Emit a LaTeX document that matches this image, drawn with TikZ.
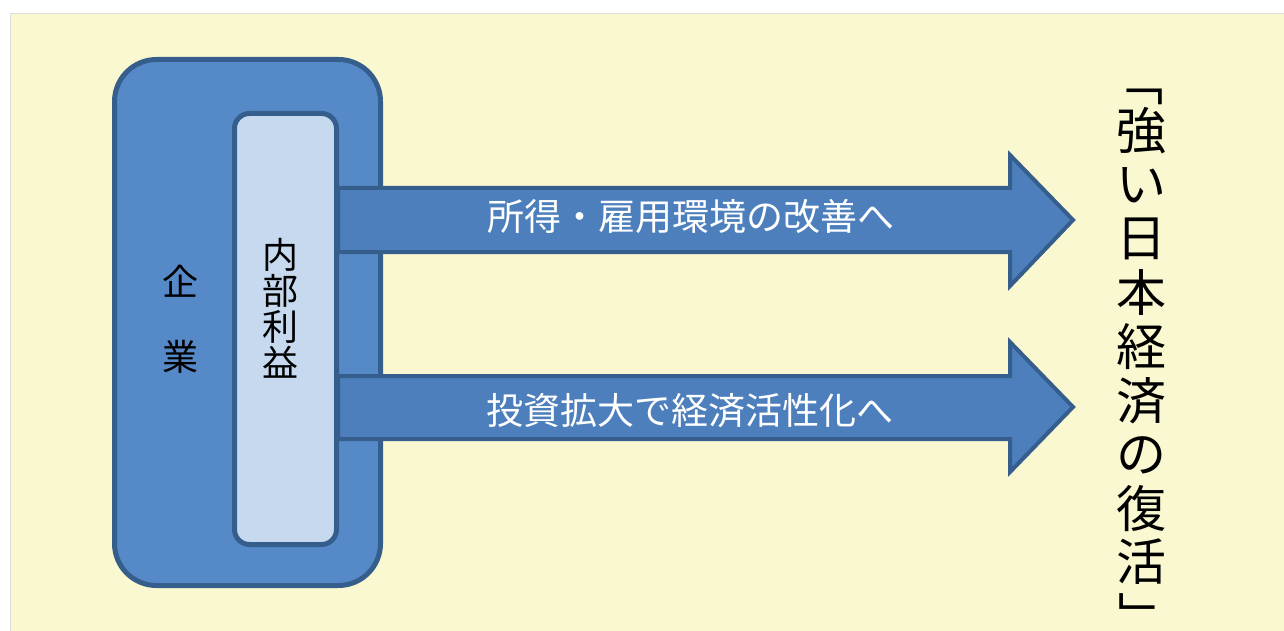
\documentclass[tikz,border=0pt]{standalone}
\usepackage{fontspec}
\newfontfamily\jpfont{Noto Sans CJK JP}
\definecolor{paper}{HTML}{FAF8D0}
\definecolor{frameline}{HTML}{DCDCDC}
\definecolor{boxline}{HTML}{365E8D}
\definecolor{kigyoblue}{HTML}{5589C7}
\definecolor{naibublue}{HTML}{C6D9EE}
\definecolor{arrowblue}{HTML}{4C7FBC}
\begin{document}
\begin{tikzpicture}[x=1pt,y=-1pt,
	box/.style={draw=boxline,line width=5pt},
	bigarrow/.style={draw=boxline,line width=4pt,fill=arrowblue,line join=miter},
	jp/.style={inner sep=0pt,font=\jpfont\fontsize{36}{36}\selectfont},
	arrowtext/.style={inner sep=0pt,text=white,font=\jpfont\fontsize{37}{37}\selectfont},
	goaltext/.style={inner sep=0pt,font=\jpfont\fontsize{50}{54}\selectfont}]
		\useasboundingbox (0,0) rectangle (1284,631);
		\fill[white] (0,0) rectangle (1284,631);
		\draw[frameline,fill=paper] (10,13) rectangle (1290,640);
		% company and internal reserves
		\draw[box,fill=kigyoblue,rounded corners=42pt] (114.5,59.5) rectangle (380.5,585.5);
		\draw[box,fill=naibublue,rounded corners=15pt] (234.5,113.5) rectangle (336.5,544.5);
		% the two arrows
		\draw[bigarrow] (338,188) -- (1010,188) -- (1010,155) -- (1073,220) -- (1010,286) -- (1010,252) -- (338,252) -- cycle;
		\draw[bigarrow] (338,376) -- (1010,376) -- (1010,342) -- (1073,407) -- (1010,472) -- (1010,439) -- (338,439) -- cycle;
		\node[jp] (ki) at (180,281) {企};
		\node[jp] (gyo) at (180,357) {業};
		\node[jp,align=center] (naibu) at (280,308) {内\\部\\利\\益};
		\node[arrowtext] (shotoku) at (691,216) {所得・雇用環境の改善へ};
		\node[arrowtext] (toshi) at (690,411) {投資拡大で経済活性化へ};
		% vertical goal text
		\node[goaltext] (kakko1) at (1138,97) {﹁};
		\foreach \c/\y [count=\i] in {強/131,い/185,日/239,本/293,経/347,済/401,の/455,復/509,活/562}
			\node[goaltext] (goal\i) at (1141,\y) {\c};
		\node[goaltext] (kakko2) at (1143,615) {﹂};
	\end{tikzpicture}
\end{document}
